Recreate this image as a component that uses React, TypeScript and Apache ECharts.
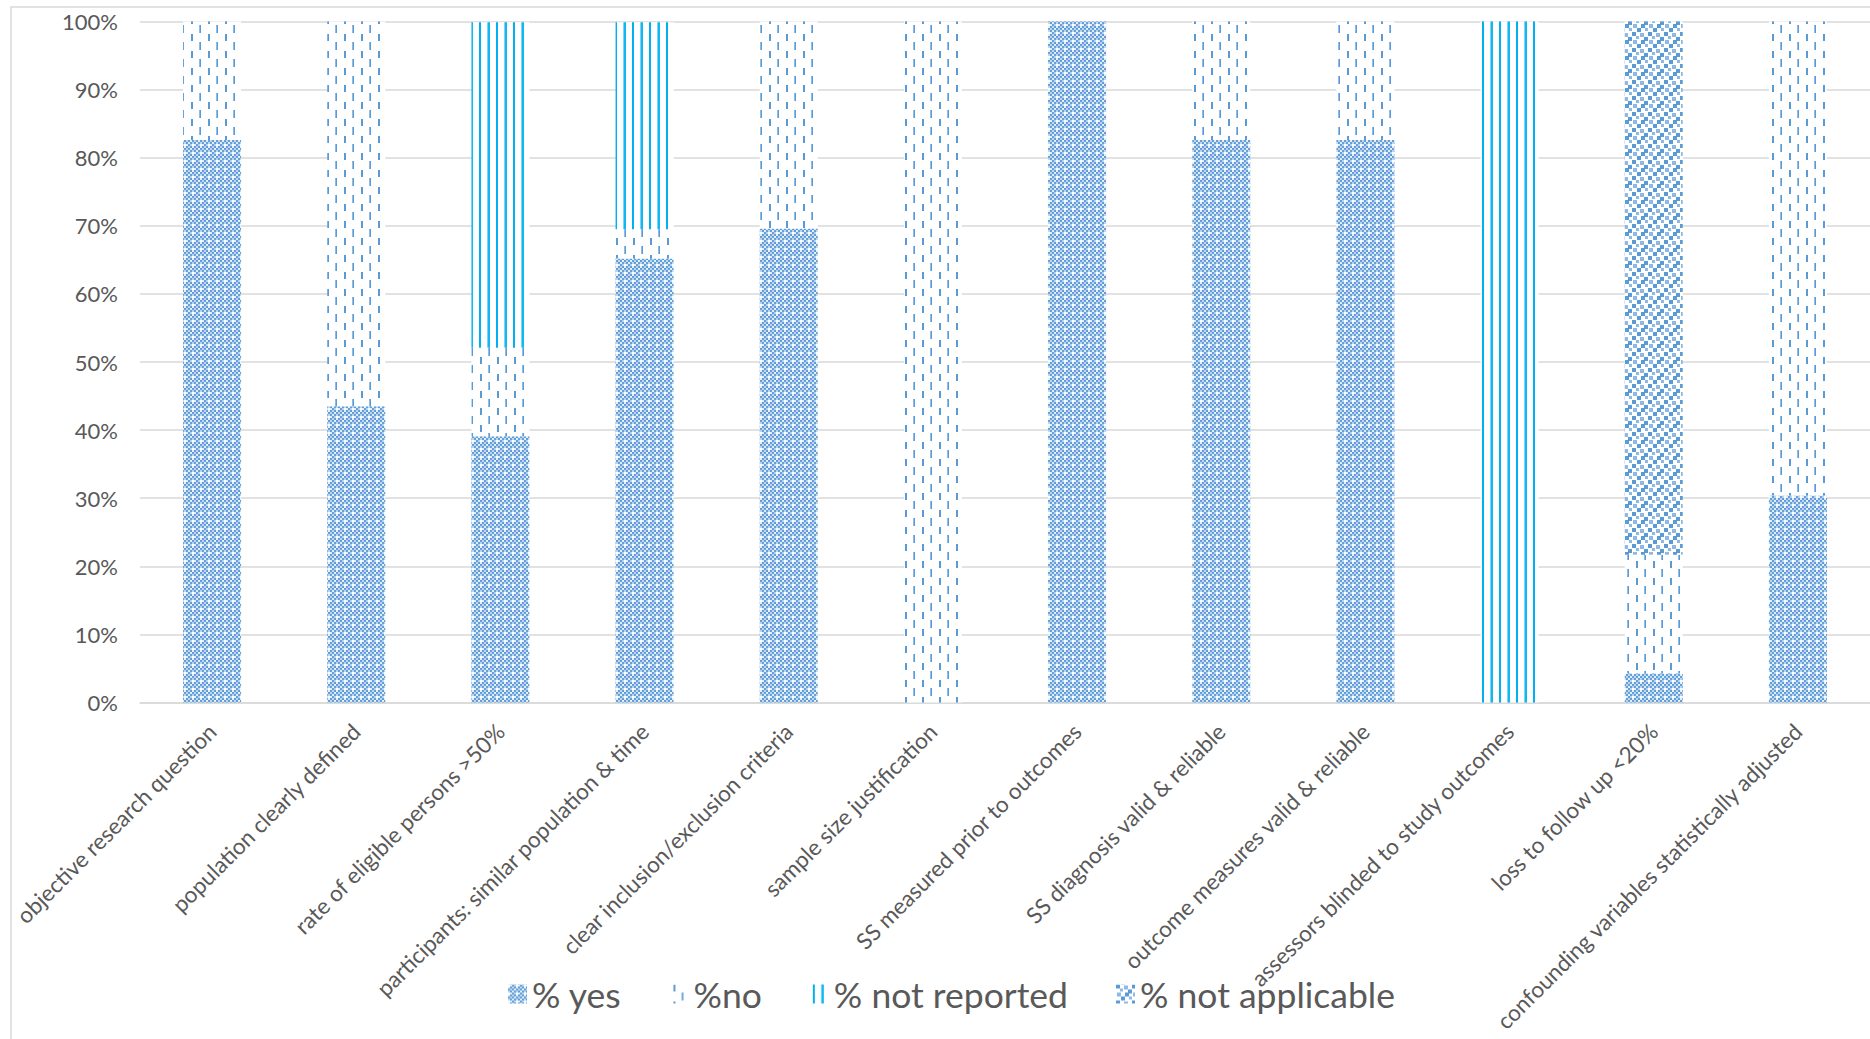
import { useEffect, useRef } from "react";
import * as echarts from "echarts";

// Quality-assessment criteria (x categories)
const categories = [
  "objective research question",
  "population clearly defined",
  "rate of eligible persons >50%",
  "participants: similar population & time",
  "clear inclusion/exclusion criteria",
  "sample size justification",
  "SS measured prior to outcomes",
  "SS diagnosis valid & reliable",
  "outcome measures valid & reliable",
  "assessors blinded to study outcomes",
  "loss to follow up <20%",
  "confounding variables statistically adjusted",
];

// Share of studies per answer, in percent
const pctYes = [82.6, 43.5, 39.1, 65.2, 69.6, 0, 100, 82.6, 82.6, 0, 4.3, 30.4];
const pctNo = [17.4, 56.5, 13.0, 4.3, 30.4, 100, 0, 17.4, 17.4, 0, 17.4, 69.6];
const pctNotReported = [0, 0, 47.8, 30.4, 0, 0, 0, 0, 0, 100, 0, 0];
const pctNotApplicable = [0, 0, 0, 0, 0, 0, 0, 0, 0, 0, 78.3, 0];

const seriesNames = ["% yes", "%no", "% not reported", "% not applicable"];

const FONT = "Lato";
const TEXT = "#595959";
const GRID = "#d9d9d9";

function makeTile(w: number, h: number, draw: (ctx: CanvasRenderingContext2D) => void) {
  const c = document.createElement("canvas");
  c.width = w;
  c.height = h;
  const ctx = c.getContext("2d")!;
  ctx.fillStyle = "#ffffff";
  ctx.fillRect(0, 0, w, h);
  draw(ctx);
  return { image: c, repeat: "repeat", imageWidth: w, imageHeight: h };
}

// 2px blue checkerboard with white crosses on an 8px grid
function yesPattern() {
  return makeTile(16, 16, (ctx) => {
    for (let j = 0; j < 8; j++) {
      for (let i = 0; i < 8; i++) {
        let col: string;
        if ((i + j) % 2 === 0) {
          col = i % 4 === 0 && j % 4 === 0 ? "#ffffff" : "#64a0d8";
        } else {
          col = (i + j) % 4 === 1 ? "#e4eef9" : "#bcd5f0";
        }
        ctx.fillStyle = col;
        ctx.fillRect(i * 2, j * 2, 2, 2);
      }
    }
  });
}

// Vertical dashes, alternate columns offset by half a period
function noPattern() {
  return makeTile(17, 17, (ctx) => {
    ctx.fillStyle = "#5b9bd5";
    ctx.fillRect(4, 0, 2, 7);
    ctx.fillStyle = "#8ebbe5";
    ctx.fillRect(12, 8, 1, 8);
    ctx.fillStyle = "#5b9bd5";
    ctx.fillRect(13, 8, 1, 8);
  });
}

// Vertical stripes
function notReportedPattern() {
  return makeTile(17, 4, (ctx) => {
    ctx.fillStyle = "#00b0f0";
    ctx.fillRect(3, 0, 2, 4);
    ctx.fillStyle = "#7fd4f6";
    ctx.fillRect(11, 0, 1, 4);
    ctx.fillStyle = "#10b8f2";
    ctx.fillRect(12, 0, 2, 4);
  });
}

// Confetti squares
function notApplicablePattern() {
  return makeTile(16, 16, (ctx) => {
    const dark = "#5b9bd5";
    const light = "#8fb9e5";
    const sq: [number, number, number, string][] = [
      [0, 0, 4, dark],
      [8, 1, 4, light],
      [4, 4, 3, light],
      [12, 5, 4, dark],
      [1, 8, 4, light],
      [9, 8, 4, dark],
      [5, 12, 4, dark],
      [13, 12, 3, light],
    ];
    for (const [x, y, s, col] of sq) {
      ctx.fillStyle = col;
      ctx.fillRect(x, y, s, s);
    }
  });
}

export default function App() {
  const ref = useRef<HTMLDivElement>(null);

  useEffect(() => {
    if (!ref.current) return;
    const chart = echarts.init(ref.current, null, { renderer: "svg" });

    const patterns = [yesPattern(), noPattern(), notReportedPattern(), notApplicablePattern()];
    const values = [pctYes, pctNo, pctNotReported, pctNotApplicable];

    chart.setOption({
      animation: false,
      backgroundColor: "#ffffff",
      textStyle: { fontFamily: FONT },
      graphic: [
        {
          type: "rect",
          shape: { x: 11, y: 7, width: 1900, height: 1100 },
          style: { fill: "none", stroke: GRID, lineWidth: 1.5 },
          silent: true,
        },
      ],
      grid: { left: 140, top: 21.5, width: 1732, height: 681, containLabel: false },
      legend: {
        data: seriesNames,
        left: 503,
        top: 971,
        icon: "rect",
        itemWidth: 19,
        itemHeight: 19,
        itemGap: 48,
        textStyle: { fontFamily: FONT, fontSize: 35.5, color: TEXT },
      },
      xAxis: {
        type: "category",
        data: categories,
        axisLine: { show: true, lineStyle: { color: GRID, width: 1.5 } },
        axisTick: { show: false },
        axisLabel: {
          rotate: 45,
          interval: 0,
          margin: 25,
          fontFamily: FONT,
          fontSize: 22.5,
          color: TEXT,
        },
      },
      yAxis: {
        type: "value",
        min: 0,
        max: 100,
        interval: 10,
        axisLine: { show: false },
        axisTick: { show: false },
        splitLine: { lineStyle: { color: GRID, width: 1.5 } },
        axisLabel: {
          formatter: "{value}%",
          margin: 22,
          fontFamily: FONT,
          fontSize: 22,
          color: TEXT,
        },
      },
      series: seriesNames.map((name, i) => ({
        name,
        type: "bar",
        stack: "total",
        barWidth: 58,
        data: values[i],
        itemStyle: { color: patterns[i] },
        emphasis: { disabled: true },
      })),
    });

    return () => chart.dispose();
  }, []);

  return (
    <div
      ref={ref}
      style={{ position: "fixed", left: 0, top: 0, width: 1870, height: 1039 }}
    />
  );
}
